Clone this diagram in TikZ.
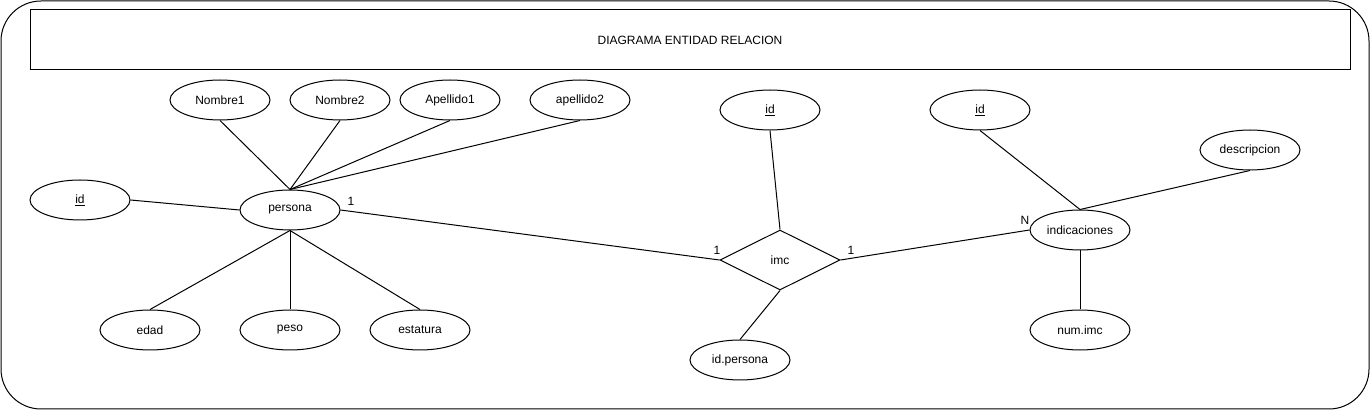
\documentclass[tikz,border=0pt]{standalone}
\usepackage{fontspec}
\setmainfont{Liberation Sans}
\usetikzlibrary{shapes.geometric}
\begin{document}
\begin{tikzpicture}[x=1pt,y=-1pt,
  every node/.style={font=\fontsize{12}{14}\selectfont},
  attr/.style={draw,ellipse,line width=1pt,minimum width=100pt,minimum height=40pt,inner sep=0pt},
  rel/.style={draw,diamond,line width=1pt,minimum width=120pt,minimum height=60pt,inner sep=0pt,aspect=2},
  conn/.style={line width=1pt},
  card/.style={inner sep=0pt}]
\useasboundingbox (0,0) rectangle (1371,411);
\draw[line width=1pt,rounded corners=40pt] (1,1) rectangle (1369,409);
\node[draw,line width=1pt,minimum width=1320pt,minimum height=60pt,inner sep=0pt] (title) at (690,40) {DIAGRAMA ENTIDAD RELACION};

\node[attr] (n1) at (220,100) {Nombre1};
\node[attr] (n2) at (340,100) {Nombre2};
\node[attr] (a1) at (450,100) {Apellido1};
\node[attr] (a2) at (580,100) {apellido2};
\node[attr] (pid) at (80,200) {\underline{id}};
\node[attr] (per) at (290,210) {persona};
\node[attr] (edad) at (150,330) {edad};
\node[attr] (peso) at (290,330) {peso};
\node[attr] (est) at (420,330) {estatura};
\node[rel] (imc) at (780,260) {imc};
\node[attr] (iid) at (770,110) {\underline{id}};
\node[attr] (idp) at (740,360) {id.persona};
\node[attr] (did) at (980,110) {\underline{id}};
\node[attr] (desc) at (1250,150) {descripcion};
\node[attr] (ind) at (1080,230) {indicaciones};
\node[attr] (num) at (1080,330) {num.imc};

\draw[conn] (n1.south) -- (per.north);
\draw[conn] (n2.south) -- (per.north);
\draw[conn] (a1.south) -- (per.north);
\draw[conn] (a2.south) -- (per.north);
\draw[conn] (pid.east) -- (per.west);
\draw[conn] (per.south) -- (edad.north);
\draw[conn] (per.south) -- (peso.north);
\draw[conn] (per.south) -- (est.north);
\draw[conn] (per.east) -- (imc.west);
\draw[conn] (imc.north) -- (iid.south);
\draw[conn] (imc.south) -- (idp.north);
\draw[conn] (imc.east) -- (ind.west);
\draw[conn] (ind.north) -- (did.south);
\draw[conn] (ind.north) -- (desc.south);
\draw[conn] (ind.south) -- (num.north);

\node[card] (c1) at (351,201) {1};
\node[card] (c2) at (717,250) {1};
\node[card] (c3) at (851,250) {1};
\node[card] (c4) at (1025,220) {N};
\end{tikzpicture}
\end{document}
